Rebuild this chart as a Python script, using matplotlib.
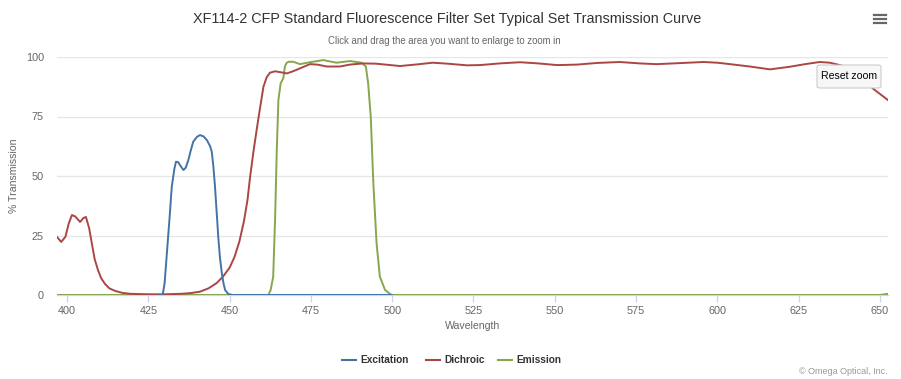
import matplotlib
matplotlib.use('Agg')
import matplotlib.pyplot as plt
from matplotlib.patches import FancyBboxPatch
from matplotlib.lines import Line2D

"""
   Transmission curves of the XF114-2 CFP filter set, drawn like the Omega
   Optical web chart (excitation, dichroic and emission).
"""

# wavelength / % transmission pairs
excitation_nm = [428.0, 429.4, 430.0, 430.7, 431.5, 432.2, 433.0, 433.5, 434.2, 434.7, 435.8,
                 436.5, 437.3, 438.0, 438.8, 440.0, 440.9, 442.0, 443.0, 444.0, 444.5, 445.0,
                 445.5, 446.0, 446.5, 447.0, 447.6, 448.1, 448.6, 449.6, 451.0, 500.0]
excitation_t = [0.0, 0.0, 5.0, 17.6, 32.0, 45.5, 53.0, 56.0, 55.8, 54.6, 52.5,
                53.5, 56.7, 60.5, 64.4, 66.5, 67.2, 66.6, 65.1, 62.5, 60.2, 54.0,
                45.5, 35.0, 24.5, 16.0, 9.1, 5.0, 2.1, 0.4, 0.0, 0.0]

dichroic_nm = [396.9, 398.2, 399.5, 400.5, 401.5, 402.5, 404.0, 405.0, 405.8, 406.8, 407.7,
               408.5, 409.5, 410.5, 411.7, 413.0, 414.8, 417.0, 419.4, 425.0, 430.0, 435.0,
               438.0, 440.9, 443.5, 446.0, 448.0, 450.0, 451.5, 453.0, 454.4, 455.5, 456.3,
               457.3, 458.3, 459.4, 460.4, 461.4, 462.4, 464.0, 466.5, 467.6, 469.5, 471.6,
               474.7, 477.0, 479.9, 483.9, 487.0, 491.0, 495.0, 498.0, 502.4, 507.0, 512.5,
               517.0, 523.0, 527.0, 533.0, 539.3, 545.0, 550.7, 556.8, 563.0, 570.0, 573.1,
               576.2, 581.3, 588.0, 595.7, 600.0, 603.9, 610.0, 616.2, 622.3, 627.0, 631.5,
               634.6, 638.0, 642.0, 645.0, 647.8, 650.0, 652.5]
dichroic_t = [24.4, 22.3, 24.5, 30.0, 33.6, 33.0, 30.7, 32.3, 32.8, 28.0, 21.0,
              15.0, 10.5, 7.0, 4.6, 2.8, 1.7, 0.9, 0.5, 0.3, 0.3, 0.5,
              0.8, 1.4, 2.8, 5.0, 7.8, 11.5, 16.0, 22.5, 31.0, 40.0, 49.7,
              60.0, 69.3, 79.0, 87.5, 91.5, 93.4, 94.0, 93.4, 93.1, 94.0, 95.2,
              97.0, 96.8, 96.0, 96.0, 96.8, 97.3, 97.2, 96.8, 96.2, 96.8, 97.6,
              97.2, 96.5, 96.6, 97.3, 97.8, 97.3, 96.6, 96.8, 97.5, 97.9, 97.6,
              97.3, 97.0, 97.4, 97.9, 97.6, 97.0, 96.0, 94.8, 95.9, 97.0, 97.9,
              97.6, 96.5, 94.0, 91.5, 86.8, 84.5, 81.9]

emission_nm = [396.9, 461.9, 462.6, 463.4, 464.0, 464.5, 465.0, 465.7, 466.5, 467.0, 467.5,
               468.1, 469.6, 471.6, 474.7, 478.8, 482.9, 487.0, 490.6, 491.9, 492.6, 493.4,
               494.2, 495.2, 496.2, 497.8, 499.8, 650.0, 652.5]
emission_t = [0.0, 0.0, 2.0, 7.7, 32.9, 61.0, 82.0, 89.0, 91.0, 96.0, 97.5,
              98.0, 98.0, 97.0, 97.8, 98.7, 97.6, 98.3, 97.6, 96.0, 89.0, 75.0,
              47.0, 21.7, 7.7, 2.1, 0.0, 0.0, 0.5]

x_ticks = [400, 425, 450, 475, 500, 525, 550, 575, 600, 625, 650]
y_ticks = [0, 25, 50, 75, 100]

W, H = 901, 379
plt.rcParams['font.family'] = ['Liberation Sans', 'DejaVu Sans']

fig = plt.figure(figsize=(W / 100, H / 100), dpi=100)
ax = fig.add_axes([57 / W, 1 - 295 / H, (888 - 57) / W, (295 - 57) / H])

ax.plot(emission_nm, emission_t, color='#89A54E', lw=1.4, zorder=3, solid_joinstyle='round')
ax.plot(dichroic_nm, dichroic_t, color='#AA4643', lw=1.4, zorder=4, solid_joinstyle='round')
ax.plot(excitation_nm, excitation_t, color='#4572A7', lw=1.4, zorder=5, solid_joinstyle='round')

ax.set_xlim(396.9, 652.5)
ax.set_ylim(0, 100)
ax.set_xticks(x_ticks)
ax.set_yticks(y_ticks)
ax.grid(axis='y', color='#e6e6e6', lw=0.9)
ax.set_axisbelow(True)
for side in ['left', 'right', 'top']:
    ax.spines[side].set_visible(False)
ax.spines['bottom'].set_color('#ccd6eb')
ax.spines['bottom'].set_linewidth(0.9)
ax.tick_params(axis='x', length=5, width=0.9, color='#ccd6eb', pad=3,
               labelsize=7.8, labelcolor='#666666')
ax.tick_params(axis='y', length=0, pad=9.5, labelsize=7.8, labelcolor='#666666')

fig.text(447 / W, 1 - 19 / H, 'XF114-2 CFP Standard Fluorescence Filter Set Typical Set Transmission Curve',
         ha='center', va='center', fontsize=10.4, color='#333333')
fig.text(444 / W, 1 - 41.5 / H, 'Click and drag the area you want to enlarge to zoom in',
         ha='center', va='center', fontsize=6.9, color='#666666')
fig.text(14 / W, 1 - 176 / H, '% Transmission', rotation=90, ha='center', va='center',
         fontsize=7.6, color='#666666')
fig.text(472.5 / W, 1 - 326 / H, 'Wavelength', ha='center', va='center',
         fontsize=7.6, color='#666666')
fig.text(888 / W, 1 - 371 / H, '\u00a9 Omega Optical, Inc.', ha='right', va='center',
         fontsize=6.5, color='#999999')

# legend, laid out by hand like the web chart
legend_items = [('Excitation', '#4572A7', 342), ('Dichroic', '#AA4643', 426), ('Emission', '#89A54E', 498)]
for name, color, x0 in legend_items:
    fig.add_artist(Line2D([x0 / W, (x0 + 14) / W], [1 - 360 / H, 1 - 360 / H],
                          color=color, lw=1.5, transform=fig.transFigure))
    fig.text((x0 + 18) / W, 1 - 360 / H, name, ha='left', va='center',
             fontsize=7.3, fontweight='bold', color='#333333')

# reset zoom button
btn = FancyBboxPatch((817 / W, 1 - 88 / H), 64 / W, 23 / H,
                     boxstyle='round,pad=0,rounding_size=0.004', transform=fig.transFigure,
                     facecolor='#f7f7f7', edgecolor='#cccccc', lw=0.8, zorder=10)
fig.add_artist(btn)
fig.text(849 / W, 1 - 76 / H, 'Reset zoom', ha='center', va='center',
         fontsize=7.6, color='#000000', zorder=11)

# context menu icon
for yy in [15, 19, 23]:
    fig.add_artist(Line2D([874 / W, 886 / W], [1 - yy / H, 1 - yy / H],
                          color='#666666', lw=1.6, transform=fig.transFigure))

fig.savefig('out.png', dpi=100)
